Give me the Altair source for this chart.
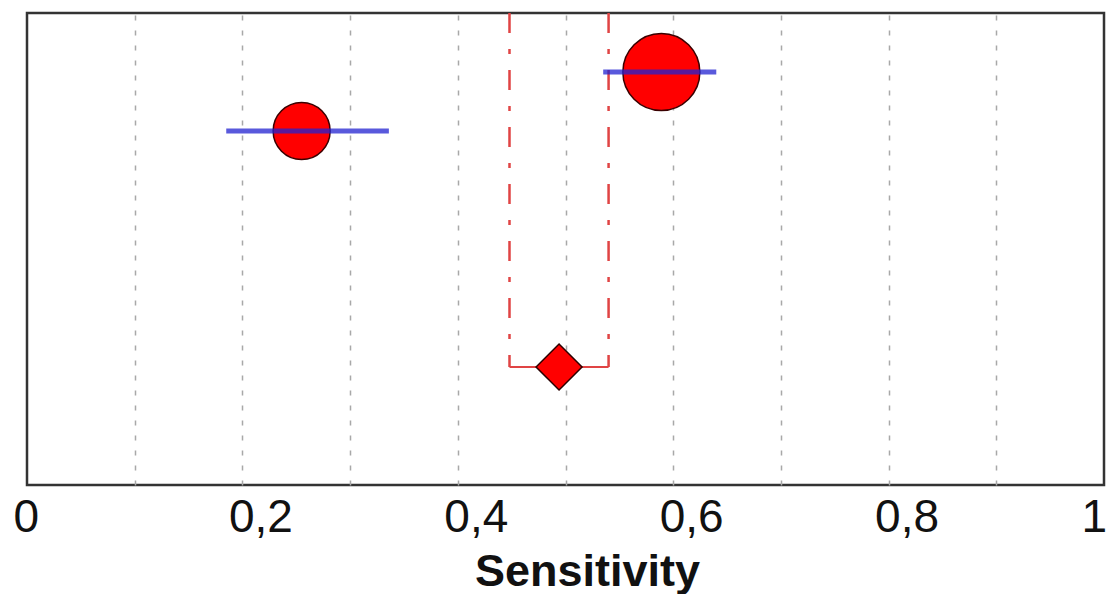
import altair as alt
import pandas as pd

# Study-level data (sensitivity with 95% CI)
study_rows = [1, 2]
study_sens = [0.589, 0.255]
study_low = [0.535, 0.185]
study_high = [0.640, 0.336]
study_weight = [64.6, 35.4]

# Pooled estimate
pooled_row = [6]
pooled_sens = [0.494]
pooled_low = [0.448]
pooled_high = [0.540]

tick_values = [0.0, 0.1, 0.2, 0.3, 0.4, 0.5, 0.6, 0.7, 0.8, 0.9, 1.0]

studies = pd.DataFrame({"row": study_rows, "sens": study_sens, "low": study_low,
                        "high": study_high, "weight": study_weight})
pooled = pd.DataFrame({"row": pooled_row, "sens": pooled_sens,
                       "low": pooled_low, "high": pooled_high})
pooled_bounds = pd.DataFrame({"bound": [pooled_low[0], pooled_high[0]],
                              "top": [0, 0], "row": [pooled_row[0]] * 2})

FONT = "Liberation Sans"

xscale = alt.Scale(domain=[0, 1], nice=False, zero=False)
yscale = alt.Scale(domain=[0, 8], reverse=True, nice=False, zero=False)

xaxis = alt.Axis(
    values=tick_values,
    title="Sensitivity",
    domain=False,
    ticks=False,
    tickSize=0,
    labelExpr="round(datum.value*10) % 2 == 0 ? replace(format(datum.value, '.1~f'), '.', ',') : ''",
    labelAlign="left",
    labelOffset={"condition": {"test": "datum.value > 0.99", "value": -23}, "value": -14},
    labelBaseline="alphabetic",
    labelPadding=46,
    labelFont=FONT,
    labelFontSize=46,
    labelColor="#111111",
    labelFlush=False,
    labelOverlap=False,
    labelBound=False,
    grid=True,
    gridColor="#a8a8a8",
    gridWidth=1.5,
    gridDash=[5, 10],
    gridOpacity={"condition": {"test": "datum.value < 0.01 || datum.value > 0.99", "value": 0}, "value": 1},
    titleFont=FONT,
    titleFontSize=45,
    titleFontWeight="bold",
    titleColor="#111111",
    titleX=560,
    titleY=100,
    titleAlign="center",
    titleBaseline="alphabetic",
    titleAnchor="middle",
)

vlines = alt.Chart(pooled_bounds).mark_rule(
    color="#e04444", strokeWidth=2.5, strokeDash=[20, 16, 5, 16]
).encode(
    x=alt.X("bound:Q", scale=xscale, axis=xaxis),
    y=alt.Y("top:Q", scale=yscale, axis=None),
    y2="row:Q",
)

hline = alt.Chart(pooled).mark_rule(color="#e04444", strokeWidth=2).encode(
    x=alt.X("low:Q", scale=xscale, axis=xaxis),
    x2="high:Q",
    y=alt.Y("row:Q", scale=yscale, axis=None),
)

circles = alt.Chart(studies).mark_circle(
    color="#ff0000", stroke="#3a0000", strokeWidth=1.5, opacity=1
).encode(
    x=alt.X("sens:Q", scale=xscale, axis=xaxis),
    y=alt.Y("row:Q", scale=yscale, axis=None),
    size=alt.Size("weight:Q", scale=alt.Scale(domain=[0, 100], range=[0, 9180]), legend=None),
)

ci = alt.Chart(studies).mark_rule(color="#2222d0", strokeWidth=5, opacity=0.75).encode(
    x=alt.X("low:Q", scale=xscale, axis=xaxis),
    x2="high:Q",
    y=alt.Y("row:Q", scale=yscale, axis=None),
)

diamond = alt.Chart(pooled).mark_point(
    shape="diamond", filled=True, fill="#ff0000", stroke="#2a0000",
    strokeWidth=1.5, opacity=1, size=2116
).encode(
    x=alt.X("sens:Q", scale=xscale, axis=xaxis),
    y=alt.Y("row:Q", scale=yscale, axis=None),
)

chart = alt.layer(vlines, hline, circles, ci, diamond).properties(
    width=1077,
    height=472,
    autosize=alt.AutoSizeParams(type="none"),
    padding={"left": 19, "top": 5, "right": 3, "bottom": 109},
    background="white",
).configure_view(stroke="#333333", strokeWidth=2.5)

chart.save("out.html", embed_options={"renderer": "svg", "actions": False})
